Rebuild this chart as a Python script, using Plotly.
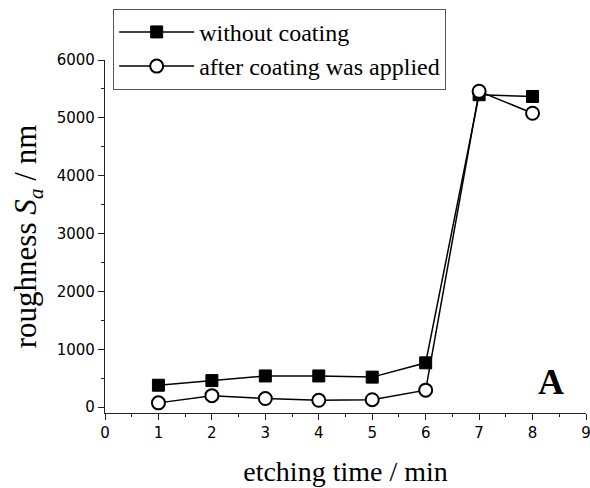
import plotly.graph_objects as go

etch_time = [1, 2, 3, 4, 5, 6, 7, 8]
without_coating = [380, 460, 540, 540, 520, 767, 5400, 5370]
after_coating = [75, 200, 150, 120, 130, 295, 5460, 5080]

serif = "Liberation Serif"
sans = "DejaVu Sans"

fig = go.Figure()
fig.add_trace(go.Scatter(
    x=etch_time, y=without_coating, mode="lines+markers",
    name="without coating",
    line=dict(color="black", width=1.5),
    marker=dict(symbol="square", size=12, color="black", line=dict(color="black", width=1)),
))
fig.add_trace(go.Scatter(
    x=etch_time, y=after_coating, mode="lines+markers",
    name="after coating was applied",
    line=dict(color="black", width=1.5),
    marker=dict(symbol="circle", size=13, color="white", line=dict(color="black", width=2)),
))

fig.add_annotation(x=8.35, y=440, text="<b>A</b>", showarrow=False,
                   font=dict(family=serif, size=36, color="black"))

fig.update_layout(
    width=590, height=488,
    margin=dict(l=105, r=4, t=60, b=75, autoexpand=False),
    plot_bgcolor="white", paper_bgcolor="white",
    showlegend=True,
    legend=dict(
        x=0.017, y=1.145, xanchor="left", yanchor="top",
        bgcolor="white", bordercolor="#555555", borderwidth=1,
        font=dict(family=serif, size=24, color="black"),
        tracegroupgap=0, itemwidth=75,
    ),
    xaxis=dict(
        range=[0, 9], tickvals=list(range(0, 10)),
        ticklabeloverflow="allow", automargin=False,
        showgrid=False, zeroline=False, showline=True, linecolor="#222", linewidth=1.2,
        ticks="outside", ticklen=6, tickcolor="#222",
        minor=dict(dtick=0.5, ticks="outside", ticklen=3, tickcolor="#222", showgrid=False),
        tickfont=dict(family=sans, size=15, color="black"),
        title=dict(text="etching time / min", font=dict(family=serif, size=28, color="black"), standoff=20),
    ),
    yaxis=dict(
        range=[-100, 6000], tickvals=[0, 1000, 2000, 3000, 4000, 5000, 6000],
        automargin=False,
        showgrid=False, zeroline=False, showline=True, linecolor="#222", linewidth=1.2,
        ticks="outside", ticklen=6, tickcolor="#222",
        minor=dict(dtick=500, ticks="outside", ticklen=3, tickcolor="#222", showgrid=False),
        tickfont=dict(family=sans, size=15, color="black"),
        title=dict(text="roughness <i>S</i><sub><i>a</i></sub> / nm", font=dict(family=serif, size=31, color="black"), standoff=10),
    ),
)

fig.write_html("out.html")
